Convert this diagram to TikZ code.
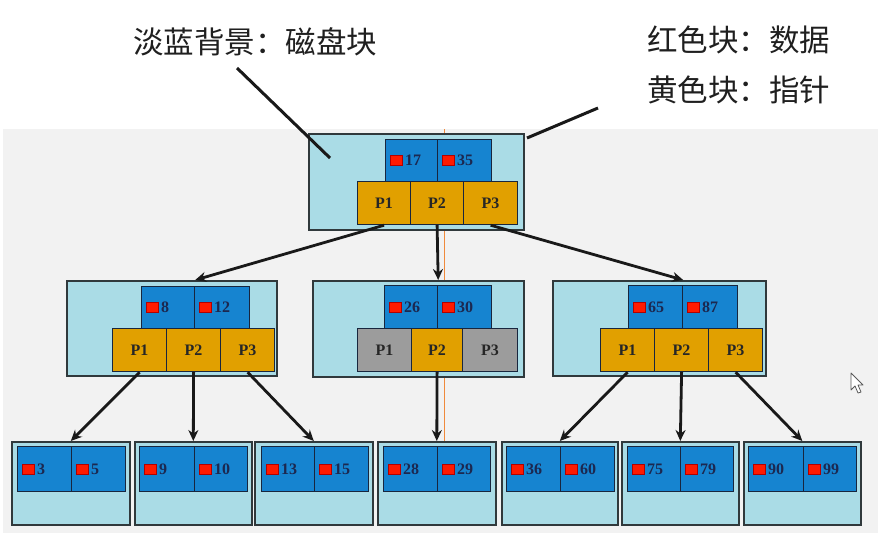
\documentclass[tikz,border=0pt]{standalone}
\usepackage{fontspec}
\setmainfont{Liberation Serif}
\newfontfamily\cjk{Noto Sans CJK SC}
\usetikzlibrary{arrows.meta,calc}
\definecolor{panel}{HTML}{F2F2F2}
\definecolor{lightblue}{HTML}{AADCE6}
\definecolor{datablue}{HTML}{1684D0}
\definecolor{ptryellow}{HTML}{E1A000}
\definecolor{ptrgray}{HTML}{9C9C9C}
\definecolor{boxedge}{HTML}{30393C}
\definecolor{celledge}{HTML}{18263E}
\definecolor{redsq}{HTML}{FF1A00}
\definecolor{numcol}{HTML}{1C2850}
\definecolor{orangeln}{HTML}{F08A3C}
\tikzset{
  outerbox/.style={draw=boxedge, fill=lightblue, line width=1.6pt, inner sep=0pt, anchor=north west},
  datacell/.style={draw=celledge, fill=datablue, line width=1.2pt, inner sep=0pt, anchor=north west},
  ptr/.style={draw=celledge, fill=ptryellow, line width=1.2pt, inner sep=0pt, anchor=north west,
    font=\fontsize{16}{16}\selectfont\bfseries, text=black!85},
  gptr/.style={ptr, fill=ptrgray},
  redbox/.style={fill=redsq, draw=red!70!black, line width=0.4pt, minimum width=12pt, minimum height=10pt, inner sep=0pt},
  numtxt/.style={font=\fontsize{16}{16}\selectfont\bfseries, text=numcol, inner sep=0pt},
  arr/.style={draw=black!90, line width=2.8pt, -{Stealth[length=11pt,width=10pt]}},
  callout/.style={draw=black!90, line width=3pt},
  cnlabel/.style={font=\cjk\fontsize{30.5}{30.5}\selectfont, text=black!88, inner sep=0pt}
}
\newcommand\obox[5]{\node[outerbox, minimum width={#4pt-#2pt}, minimum height={#5pt-#3pt}] (#1) at (#2,#3) {};}
\newcommand\dcell[6]{%
  \node[datacell, minimum width={#4pt-#2pt}, minimum height={#5pt-#3pt}] (#1) at (#2,#3) {};
  \node[redbox, anchor=west] (#1r) at ([xshift=5pt]#1.west) {};
  \node[numtxt, anchor=west] (#1t) at ([xshift=20pt]#1.west) {#6};}
\newcommand\pcell[7]{\node[#1, minimum width={#5pt-#3pt}, minimum height={#6pt-#4pt}] (#2) at (#3,#4) {#7};}
\newcommand\leafnode[8]{% name, x1, xm, x2 (cells), ox1, ox2, label1, label2
  \obox{#1}{#5}{441}{#6}{524}
  \dcell{#1a}{#2}{446}{#3}{491}{#7}
  \dcell{#1b}{#3}{446}{#4}{491}{#8}}
\begin{document}
\begin{tikzpicture}[x=1pt,y=-1pt]
\useasboundingbox (0,0) rectangle (894,550);
\fill[white] (0,0) rectangle (894,550);
\fill[panel] (3,129) rectangle (878,533);
% labels
\node[cnlabel] (lbl1) at (255,42) {淡蓝背景：磁盘块};
\node[cnlabel, anchor=west] (lbl2) at (647,40) {红色块：数据};
\node[cnlabel, anchor=west] (lbl3) at (647,90) {黄色块：指针};
% orange guide line (behind boxes)
\draw[orangeln, line width=1pt] (444,129) -- (444,441);
% root
\obox{root}{308}{133}{523}{229}
\dcell{rd1}{385}{139}{437}{181}{17}
\dcell{rd2}{437}{139}{491}{181}{35}
\pcell{ptr}{rp1}{357}{181}{410}{224}{P1}
\pcell{ptr}{rp2}{410}{181}{463}{224}{P2}
\pcell{ptr}{rp3}{463}{181}{517}{224}{P3}
% middle left
\obox{ml}{66}{280}{276}{375}
\dcell{ml1}{141}{286}{194}{328}{8}
\dcell{ml2}{194}{286}{249}{328}{12}
\pcell{ptr}{mlp1}{112}{328}{166}{371}{P1}
\pcell{ptr}{mlp2}{166}{328}{220}{371}{P2}
\pcell{ptr}{mlp3}{220}{328}{274}{371}{P3}
% middle center
\obox{mc}{312}{280}{523}{376}
\dcell{mc1}{384}{285}{437}{328}{26}
\dcell{mc2}{437}{285}{491}{328}{30}
\pcell{gptr}{mcp1}{357}{328}{411}{371}{P1}
\pcell{ptr}{mcp2}{411}{328}{462}{371}{P2}
\pcell{gptr}{mcp3}{462}{328}{517}{371}{P3}
% middle right
\obox{mr}{552}{280}{765}{375}
\dcell{mr1}{628}{285}{682}{328}{65}
\dcell{mr2}{682}{285}{737}{328}{87}
\pcell{ptr}{mrp1}{600}{328}{654}{371}{P1}
\pcell{ptr}{mrp2}{654}{328}{708}{371}{P2}
\pcell{ptr}{mrp3}{708}{328}{762}{371}{P3}
% leaves
\leafnode{la}{17}{71}{125}{11}{129}{3}{5}
\leafnode{lb}{139}{194}{247}{134}{251}{9}{10}
\leafnode{lc}{261}{314}{368}{254}{372}{13}{15}
\leafnode{ld}{383}{437}{490}{377}{495}{28}{29}
\leafnode{le}{506}{560}{614}{501}{617}{36}{60}
\leafnode{lf}{627}{680}{733}{621}{738}{75}{79}
\leafnode{lg}{748}{803}{856}{743}{860}{90}{99}
% arrows root -> middle
\draw[arr] (rp1.south) -- (ml1.north east |- ml.north);
\draw[arr] (rp2.south) -- (mc1.north east |- mc.north);
\draw[arr] (rp3.south) -- (mr1.north east |- mr.north);
% arrows middle -> leaves
\draw[arr] (mlp1.south) -- (la.north);
\draw[arr] (mlp2.south) -- (lb.north);
\draw[arr] (mlp3.south) -- (lc.north);
\draw[arr] (mcp2.south) -- (ld.north);
\draw[arr] (mrp1.south) -- (le.north);
\draw[arr] (mrp2.south) -- (lf.north);
\draw[arr] (mrp3.south) -- (lg.north);
% callout lines
\coordinate (c1a) at (237,68);
\coordinate (c1b) at (330,158);
\coordinate (c2a) at (598,108);
\coordinate (c2b) at (527,138);
\draw[callout] (c1a) -- (c1b);
\draw[callout] (c2a) -- (c2b);
% mouse cursor
\draw[fill=white, draw=black!65, line width=0.8pt, line join=round]
  (851,373) -- (851,390) -- (855,386) -- (858,393) -- (861,392) -- (858,385) -- (863,385) -- cycle;
\end{tikzpicture}
\end{document}
